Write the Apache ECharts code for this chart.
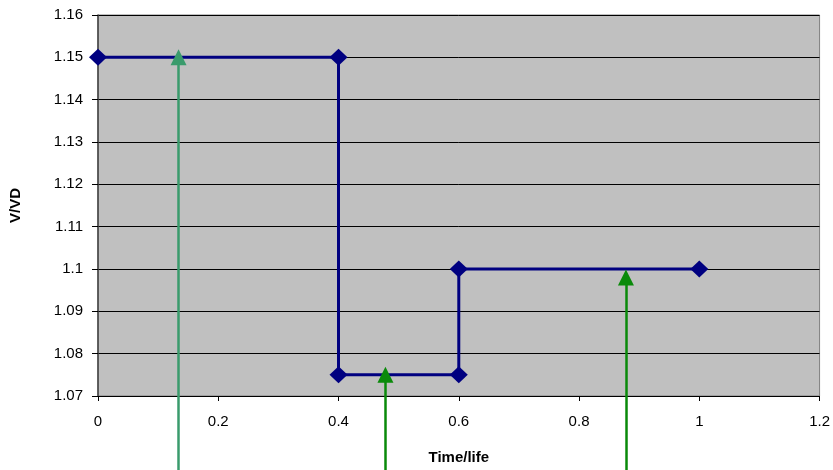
<!DOCTYPE html>
<html>
<head>
<meta charset="utf-8">
<script src="https://cdn.jsdelivr.net/npm/echarts@6/dist/echarts.min.js"></script>
<style>
  html, body { margin: 0; padding: 0; background: #fff; }
  #chart { width: 833px; height: 470px; }
</style>
</head>
<body>
<div id="chart"></div>
<script>
// Stepped voltage profile over normalised life
const stepTime = [0, 0.4, 0.4, 0.6, 0.6, 1];
const stepVolt = [1.15, 1.15, 1.075, 1.075, 1.1, 1.1];

// Pointer arrows: x position, tip value and tail value (below the axis)
const arrowX    = [0.134, 0.478, 0.878];
const arrowTip  = [1.15, 1.075, 1.098];
const arrowTail = [1.0525, 1.0525, 1.0525];
const arrowColors = ['#3a9b6c', '#0a8a0a', '#0a8a0a'];

const xTicks = { min: 0, max: 1.2, interval: 0.2 };
const yTicks = { min: 1.07, max: 1.16, interval: 0.01 };

const font = 'Liberation Sans, Arial, sans-serif';

const chart = echarts.init(document.getElementById('chart'), null, { renderer: 'canvas' });

const stepData = stepTime.map((t, i) => [t, stepVolt[i]]);
const arrowData = arrowX.map((x, i) => ({
  coords: [[x, arrowTail[i]], [x, arrowTip[i]]],
  lineStyle: { color: arrowColors[i] }
}));

chart.setOption({
  animation: false,
  grid: {
    left: 97, right: 13, top: 15, bottom: 73,
    show: true,
    backgroundColor: '#C0C0C0',
    borderColor: '#808080',
    borderWidth: 1
  },
  xAxis: {
    type: 'value',
    min: xTicks.min, max: xTicks.max, interval: xTicks.interval,
    name: 'Time/life',
    nameLocation: 'middle',
    nameGap: 54,
    nameTextStyle: { fontFamily: font, fontSize: 15, fontWeight: 'bold', color: '#000' },
    axisLine: { show: true, lineStyle: { color: '#000', width: 1 } },
    axisTick: { show: true, length: 5, lineStyle: { color: '#000' } },
    axisLabel: {
      fontFamily: font, fontSize: 15, color: '#000', margin: 18,
      formatter: v => String(Math.round(v * 10) / 10)
    },
    splitLine: { show: false }
  },
  yAxis: {
    type: 'value',
    min: yTicks.min, max: yTicks.max, interval: yTicks.interval,
    name: 'V/VD',
    nameLocation: 'middle',
    nameGap: 75,
    nameRotate: 90,
    nameTextStyle: { fontFamily: font, fontSize: 15, fontWeight: 'bold', color: '#000' },
    axisLine: { show: true, lineStyle: { color: '#404040', width: 1.5 } },
    axisTick: { show: true, length: 6, lineStyle: { color: '#000' } },
    axisLabel: {
      fontFamily: font, fontSize: 15, color: '#000', margin: 15,
      formatter: v => String(Math.round(v * 100) / 100)
    },
    splitLine: { show: true, lineStyle: { color: '#000', width: 1 } }
  },
  series: [
    {
      type: 'line',
      data: stepData,
      symbol: 'diamond',
      symbolSize: [18, 17],
      showAllSymbol: true,
      itemStyle: { color: '#000080' },
      lineStyle: { color: '#000080', width: 3 },
      z: 3
    },
    {
      type: 'lines',
      coordinateSystem: 'cartesian2d',
      clip: false,
      symbol: ['none', 'triangle'],
      symbolSize: [0, 16],
      lineStyle: { width: 2.5, opacity: 1 },
      data: arrowData,
      z: 4
    }
  ]
});
</script>
</body>
</html>
